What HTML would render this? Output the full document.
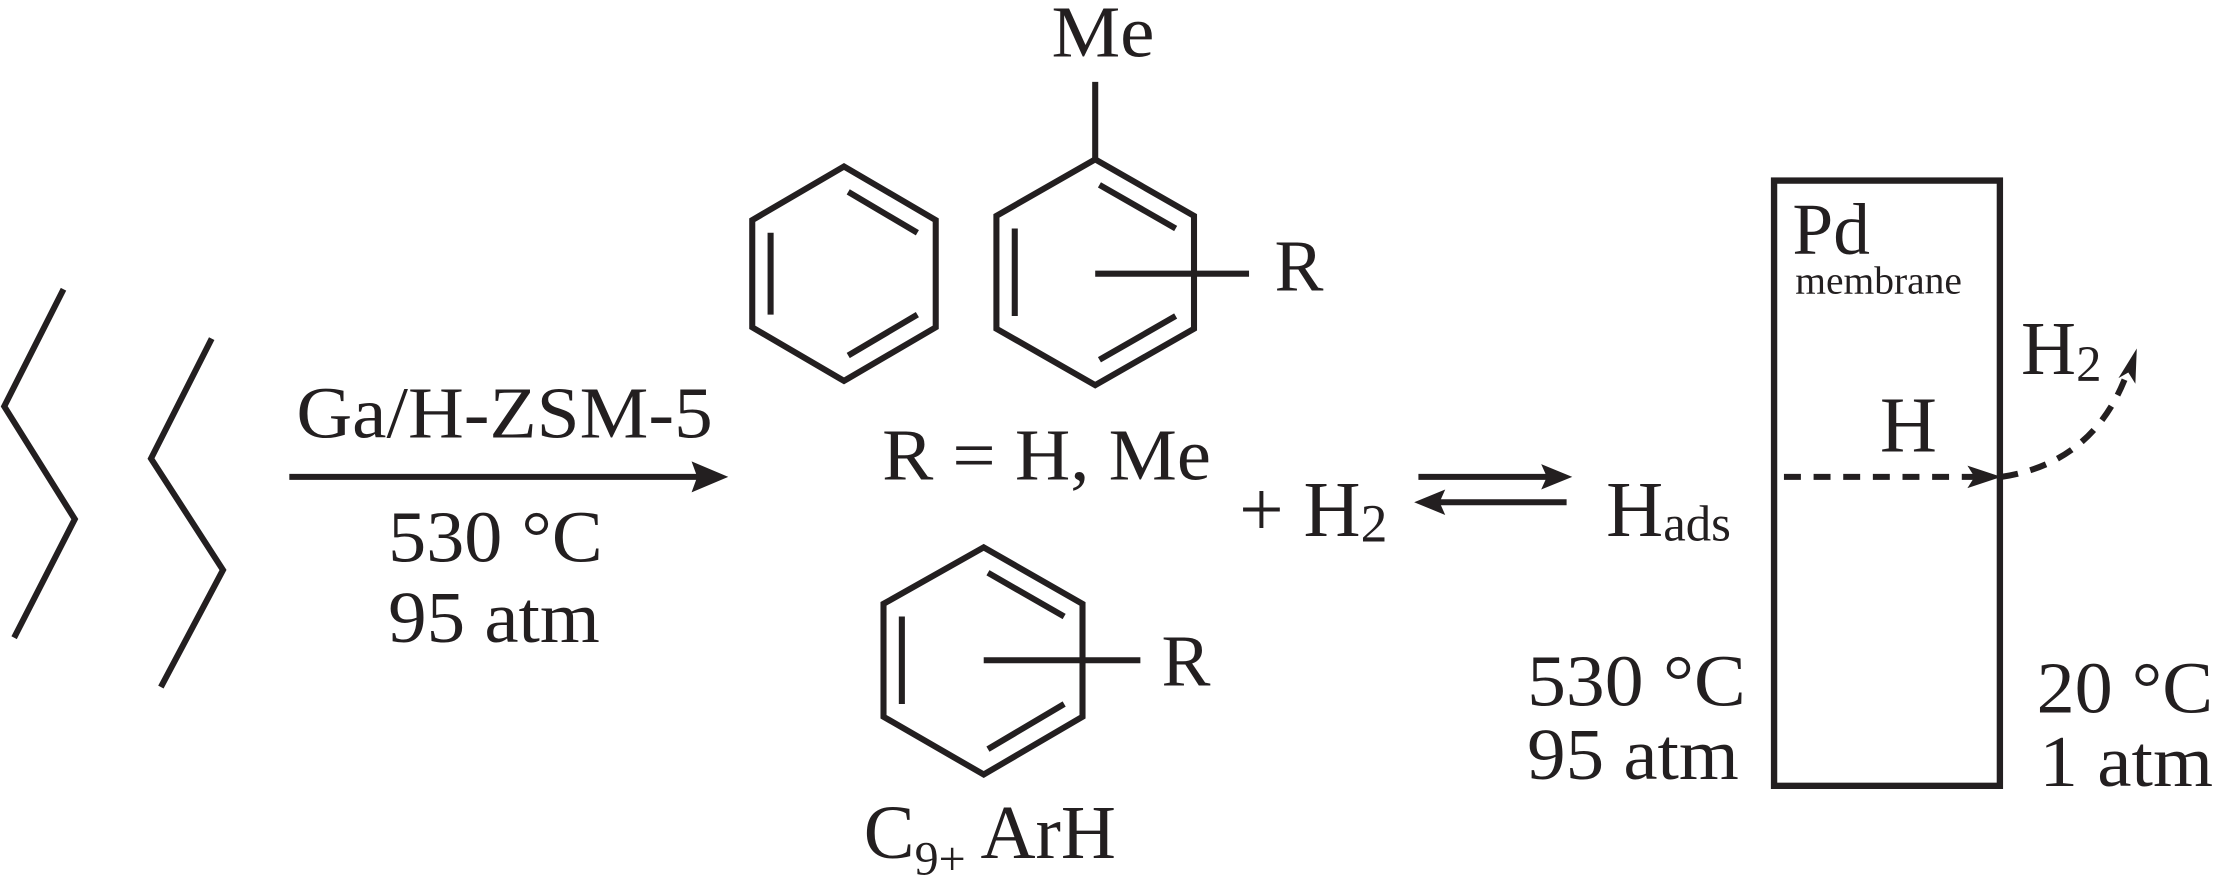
<!DOCTYPE html>
<html><head><meta charset="utf-8"><style>
html,body{margin:0;padding:0;background:#fff;}
svg{display:block;}
text{font-family:"Liberation Serif",serif;fill:#231f20;}
</style></head><body>
<svg width="2213" height="886" viewBox="0 0 1568 628" preserveAspectRatio="none" xmlns="http://www.w3.org/2000/svg">
<g fill="none" stroke="#231f20" stroke-width="4.3" stroke-linejoin="miter">
<polyline points="45,205 3,288 53,368 10,452"/>
<polyline points="150,240 107,325 158,404 114,487"/>
<line x1="205" y1="338" x2="495" y2="338"/>
<polygon points="598,118 663,156 663,232 598,270 533,232 533,156"/>
<line x1="601" y1="136" x2="650" y2="165"/>
<line x1="546" y1="165" x2="546" y2="223"/>
<line x1="601" y1="252" x2="650" y2="223"/>
<polygon points="776,113 846,153 846,233 776,273 706,233 706,153"/>
<line x1="776" y1="113" x2="776" y2="58"/>
<line x1="779" y1="131" x2="833" y2="162"/>
<line x1="719" y1="162" x2="719" y2="224"/>
<line x1="779" y1="255" x2="833" y2="224"/>
<line x1="776" y1="194" x2="885" y2="194"/>
<polygon points="697,388 767,428 767,508 697,549 626,508 626,428"/>
<line x1="700" y1="406" x2="754" y2="437"/>
<line x1="639" y1="437" x2="639" y2="499"/>
<line x1="700" y1="531" x2="754" y2="499"/>
<line x1="697" y1="468" x2="808" y2="468"/>
<line x1="1005" y1="338" x2="1100" y2="338"/>
<line x1="1018" y1="356" x2="1110" y2="356"/>
<rect x="1257" y="128" width="160" height="429" stroke-width="4.5"/>
<line x1="1264" y1="338" x2="1400" y2="338" stroke-dasharray="12,9"/>
<path d="M1418,338 Q1485,328 1508,262" stroke-dasharray="12,9"/>
</g>
<g fill="#231f20">
<polygon points="516,338 490,327 494,338 490,349"/>
<polygon points="1114,338 1092,329 1096,338 1092,347"/>
<polygon points="1002,356 1024,347 1020,356 1024,365"/>
<polygon points="1418,338 1394,330 1399,338 1394,346"/>
<polygon points="1514,247 1501,268 1508,264 1513,272"/>
</g>
<g font-size="52">
<text x="210" y="310" textLength="295" lengthAdjust="spacingAndGlyphs">Ga/H-ZSM-5</text>
<text x="275" y="398" textLength="152" lengthAdjust="spacingAndGlyphs">530 °C</text>
<text x="275" y="455" textLength="150" lengthAdjust="spacingAndGlyphs">95 atm</text>
<text x="745" y="40" textLength="73" lengthAdjust="spacingAndGlyphs">Me</text>
<text x="903" y="206">R</text>
<text x="625" y="340" textLength="233" lengthAdjust="spacingAndGlyphs">R = H, Me</text>
<text x="823" y="486">R</text>
<text x="612" y="608" font-size="54">C<tspan font-size="34" dy="12">9+</tspan><tspan dy="-12"> ArH</tspan></text>
<text x="878" y="380" font-size="56">+ H<tspan font-size="38" dy="4">2</tspan></text>
<text x="1138" y="380" font-size="56">H<tspan font-size="36" dy="3">ads</tspan></text>
<text x="1270" y="180">Pd</text>
<text x="1272" y="208" font-size="28">membrane</text>
<text x="1332" y="320" font-size="56">H</text>
<text x="1432" y="265" font-size="54">H<tspan font-size="36" dy="5">2</tspan></text>
<text x="1082" y="500" textLength="155" lengthAdjust="spacingAndGlyphs">530 °C</text>
<text x="1082" y="552" textLength="150" lengthAdjust="spacingAndGlyphs">95 atm</text>
<text x="1443" y="505" textLength="125" lengthAdjust="spacingAndGlyphs">20 °C</text>
<text x="1445" y="557" textLength="123" lengthAdjust="spacingAndGlyphs">1 atm</text>
</g>
</svg>
</body></html>
